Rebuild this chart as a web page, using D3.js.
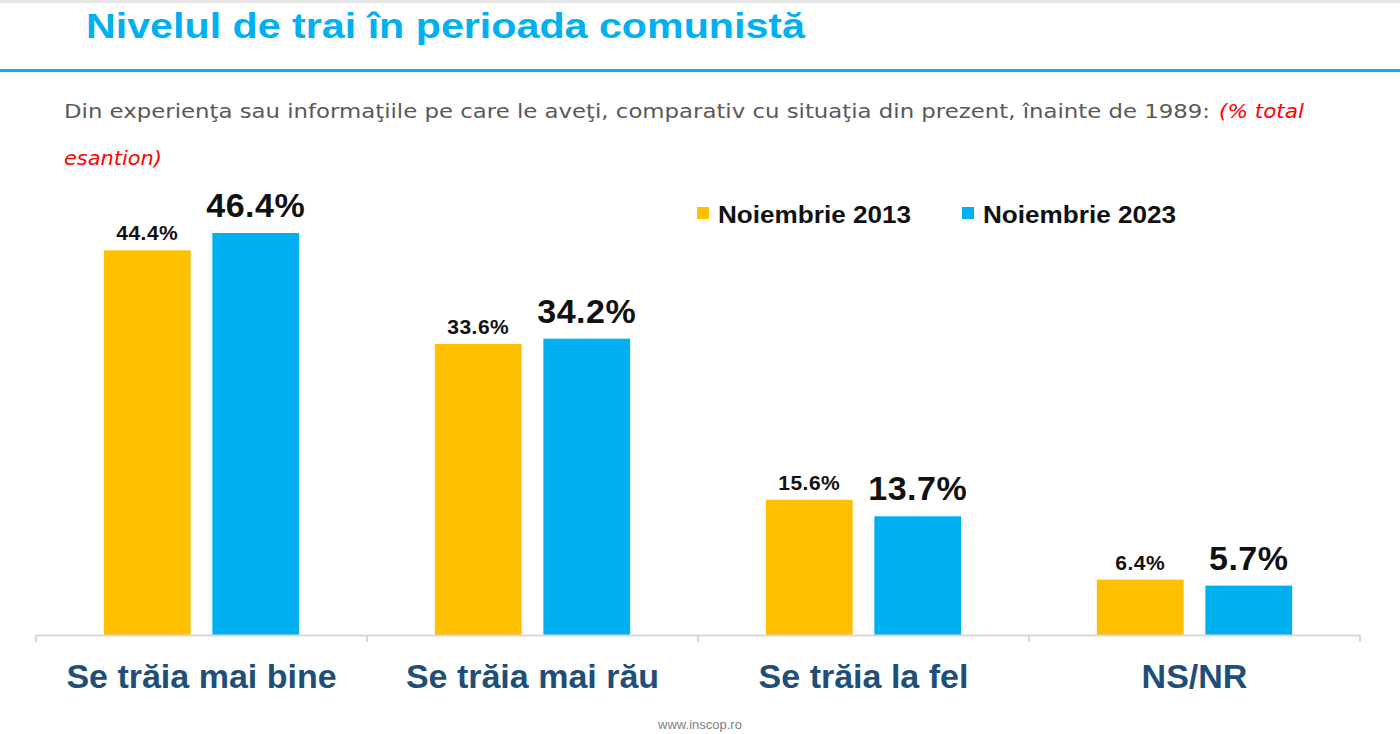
<!DOCTYPE html>
<html>
<head>
<meta charset="utf-8">
<script src="https://cdn.jsdelivr.net/npm/d3@7"></script>
<style>
  html, body { margin: 0; padding: 0; background: #fff; }
  svg { display: block; font-family: "Liberation Sans", Arial, sans-serif; }
</style>
</head>
<body>
<div id="chart"></div>
<script>
// data
const categories = ["Se trăia mai bine", "Se trăia mai rău", "Se trăia la fel", "NS/NR"];
const seriesNames = ["Noiembrie 2013", "Noiembrie 2023"];
const values2013 = [44.4, 33.6, 15.6, 6.4];
const values2023 = [46.4, 34.2, 13.7, 5.7];
const seriesColors = ["#ffc000", "#00b0f0"];

const W = 1400, H = 734;
const baseY = 635;

const svg = d3.select("#chart").append("svg")
    .attr("width", W)
    .attr("height", H);

// top grey strip + title
svg.append("rect").attr("x", 0).attr("y", 0).attr("width", W).attr("height", 3).attr("fill", "#e6e6e6");

svg.append("text")
    .attr("x", 86).attr("y", 38)
    .attr("textLength", 719).attr("lengthAdjust", "spacingAndGlyphs")
    .style("font-size", "35px").style("font-weight", "bold")
    .attr("fill", "#00b0f0")
    .text("Nivelul de trai în perioada comunistă");

svg.append("rect").attr("x", 0).attr("y", 69).attr("width", W).attr("height", 3).attr("fill", "#00b0f0");

// subtitle (wider face, like the original)
svg.append("text").attr("x", 64).attr("y", 118)
    .attr("textLength", 1146).attr("lengthAdjust", "spacingAndGlyphs")
    .style("font-family", "'DejaVu Sans', sans-serif")
    .style("font-size", "20px").attr("fill", "#595959")
    .text("Din experienţa sau informaţiile pe care le aveţi, comparativ cu situaţia din prezent, înainte de 1989:");
svg.append("text").attr("x", 1219).attr("y", 118)
    .attr("textLength", 85).attr("lengthAdjust", "spacingAndGlyphs")
    .style("font-family", "'DejaVu Sans', sans-serif")
    .style("font-size", "20px").style("font-style", "italic")
    .attr("fill", "#ff0000").text("(% total");
svg.append("text").attr("x", 64).attr("y", 165)
    .attr("textLength", 98).attr("lengthAdjust", "spacingAndGlyphs")
    .style("font-family", "'DejaVu Sans', sans-serif")
    .style("font-size", "20px").style("font-style", "italic")
    .attr("fill", "#ff0000").text("esantion)");

// scales
const x0 = d3.scaleBand()
    .domain(categories)
    .range([36, 1360])
    .padding(0);

const x1 = d3.scaleBand()
    .domain(seriesNames)
    .range([x0.bandwidth() * 0.205, x0.bandwidth() * 0.795])
    .paddingInner(0.2)
    .paddingOuter(0);

const y = d3.scaleLinear()
    .domain([0, 46.4])
    .range([baseY, 233]);

const rows = categories.map((c, i) => ({
    cat: c,
    vals: [
        { s: seriesNames[0], v: values2013[i], k: 0 },
        { s: seriesNames[1], v: values2023[i], k: 1 }
    ]
}));

const groups = svg.append("g")
    .selectAll("g")
    .data(rows)
    .enter()
    .append("g")
    .attr("transform", d => `translate(${x0(d.cat)},0)`);

groups.selectAll("rect")
    .data(d => d.vals)
    .enter()
    .append("rect")
    .attr("x", d => x1(d.s))
    .attr("y", d => y(d.v))
    .attr("width", x1.bandwidth())
    .attr("height", d => baseY - y(d.v))
    .attr("fill", d => seriesColors[d.k]);

// value labels: small for 2013, big for 2023
groups.selectAll("text.val")
    .data(d => d.vals)
    .enter()
    .append("text")
    .attr("class", "val")
    .attr("x", d => x1(d.s) + x1.bandwidth() / 2)
    .attr("y", d => y(d.v) - (d.k === 0 ? 10 : 16))
    .attr("text-anchor", "middle")
    .style("font-weight", "bold")
    .style("font-size", d => d.k === 0 ? "21px" : "34px")
    .style("letter-spacing", "0.5px")
    .attr("fill", "#111")
    .text(d => d.v.toFixed(1) + "%");

// x axis
const axis = svg.append("g")
    .attr("transform", `translate(0,${baseY})`)
    .call(d3.axisBottom(x0).tickSize(0).tickFormat(""));
axis.select(".domain").attr("stroke", "#d9d9d9").attr("stroke-width", 2);

// tick marks at category boundaries
const bounds = categories.map(c => x0(c)).concat([x0.range()[1]]);
axis.selectAll("line.bound")
    .data(bounds)
    .enter()
    .append("line")
    .attr("class", "bound")
    .attr("x1", d => d).attr("x2", d => d)
    .attr("y1", 0).attr("y2", 7)
    .attr("stroke", "#d9d9d9").attr("stroke-width", 2);

axis.selectAll("text.cat")
    .data(categories)
    .enter()
    .append("text")
    .attr("class", "cat")
    .attr("x", d => x0(d) + x0.bandwidth() / 2)
    .attr("y", 53)
    .attr("text-anchor", "middle")
    .style("font-size", "34px").style("font-weight", "bold")
    .attr("fill", "#1f4e79")
    .text(d => d);

// legend
const legendX = [697, 962];
const legend = svg.append("g")
    .selectAll("g")
    .data(seriesNames)
    .enter()
    .append("g")
    .attr("transform", (d, i) => `translate(${legendX[i]},207)`);
legend.append("rect")
    .attr("width", 12).attr("height", 12)
    .attr("fill", (d, i) => seriesColors[i]);
legend.append("text")
    .attr("x", 21).attr("y", 16)
    .attr("textLength", 193).attr("lengthAdjust", "spacingAndGlyphs")
    .style("font-size", "24px").style("font-weight", "bold")
    .attr("fill", "#111")
    .text(d => d);

// footer
svg.append("text")
    .attr("x", 700).attr("y", 729)
    .attr("text-anchor", "middle")
    .style("font-size", "13px")
    .attr("fill", "#7f7f7f")
    .text("www.inscop.ro");
</script>
</body>
</html>
